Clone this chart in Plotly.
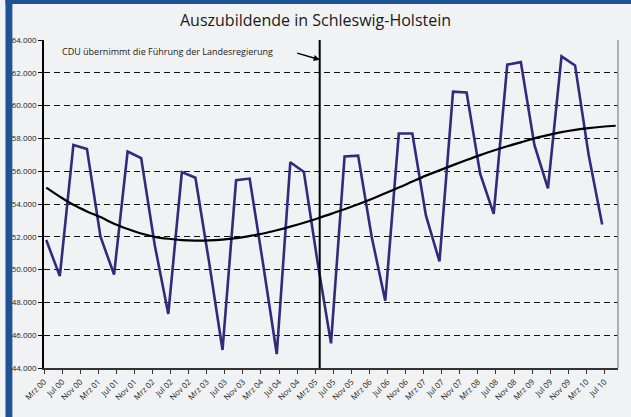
import plotly.graph_objects as go

# ---- data (quarterly values, Mrz 00 .. Jun 10) ----
azubi = [51800, 49600, 57600, 57350, 52000, 49700, 57200, 56800,
         51500, 47300, 55950, 55600, 50500, 45100, 55450, 55550,
         50300, 44850, 56550, 55950, 50500, 45500, 56900, 56950,
         52000, 48100, 58300, 58300, 53300, 50500, 60850, 60800,
         55850, 53400, 62500, 62650, 57600, 54950, 63000, 62450,
         57000, 52750]
trend = [55000, 54450, 53950, 53550, 53200, 52800, 52480, 52200,
         52000, 51880, 51800, 51770, 51780, 51830, 51920, 52050,
         52200, 52400, 52620, 52860, 53120, 53400, 53680, 53980,
         54300, 54650, 55000, 55370, 55730, 56050, 56370, 56680,
         56980, 57260, 57520, 57760, 58000, 58200, 58380, 58520,
         58630, 58710, 58770]
tick_labels = ["Mrz 00", "Jul 00", "Nov 00", "Mrz 01", "Jul 01", "Nov 01",
               "Mrz 02", "Jul 02", "Nov 02", "Mrz 03", "Jul 03", "Nov 03",
               "Mrz 04", "Jul 04", "Nov 04", "Mrz 05", "Jul 05", "Nov 05",
               "Mrz 06", "Jul 06", "Nov 06", "Mrz 07", "Jul 07", "Nov 07",
               "Mrz 08", "Jul 08", "Nov 08", "Mrz 09", "Jul 09", "Nov 09",
               "Mrz 10", "Jul 10"]
event_month = 61  # April 2005, months after Mrz 00
event_text = "CDU übernimmt die Führung der Landesregierung"
title_text = "Auszubildende in Schleswig-Holstein"

# x positions: months after March 2000 (quarterly points, mid-month)
x_data = [3 * i + 0.5 for i in range(len(azubi))]
x_trend = [3 * i + 0.5 for i in range(len(trend))]
tick_vals = [4 * k for k in range(len(tick_labels))]

W, H = 631, 417
L, R, T, B = 37, 13, 40, 49
pw, ph = W - L - R, H - T - B


def px_x(p):
    return (p - L) / pw


def px_y(p):
    return (H - B - p) / ph


FONT = "Open Sans"
BLUE = "#1E5494"
BG = "#F1F2F4"

fig = go.Figure()
fig.add_trace(go.Scatter(x=x_data, y=azubi, mode="lines",
                         line=dict(color="#2F2C7C", width=2.6),
                         showlegend=False, hoverinfo="skip"))
fig.add_trace(go.Scatter(x=x_trend, y=trend, mode="lines",
                         line=dict(color="black", width=2.2, shape="spline"),
                         showlegend=False, hoverinfo="skip"))

shapes = [
    dict(type="line", xref="x", yref="paper", x0=event_month, x1=event_month,
         y0=0, y1=1, line=dict(color="black", width=2)),
    dict(type="line", xref="paper", yref="paper", x0=1, x1=1, y0=0, y1=1,
         line=dict(color="#999999", width=1.5)),
    # blue frame strips (top, left)
    dict(type="rect", xref="paper", yref="paper", x0=px_x(-2), x1=px_x(W + 2),
         y0=px_y(4), y1=px_y(-2), line=dict(width=0), fillcolor=BLUE, layer="below"),
    dict(type="rect", xref="paper", yref="paper", x0=px_x(-2), x1=px_x(5),
         y0=px_y(H + 2), y1=px_y(-2), line=dict(width=0), fillcolor=BLUE, layer="below"),
]

annotations = [
    dict(text=title_text, xref="paper", yref="paper", x=px_x(312), y=px_y(20),
         showarrow=False, font=dict(family=FONT, size=16, color="#1a1a1a"),
         xanchor="center", yanchor="middle"),
    dict(text=event_text, xref="paper", yref="paper", x=px_x(53), y=px_y(51),
         showarrow=False, font=dict(family=FONT, size=9, color="#1a1a1a"),
         xanchor="left", yanchor="middle"),
    dict(x=event_month, y=62800, xref="x", yref="y", text="", showarrow=True,
         ax=-24, ay=-7, arrowhead=2, arrowsize=0.8, arrowwidth=1.5,
         arrowcolor="black"),
]

fig.update_layout(
    width=W, height=H,
    margin=dict(l=L, r=R, t=T, b=B, pad=0),
    paper_bgcolor=BG, plot_bgcolor=BG,
    separators=",.",
    shapes=shapes, annotations=annotations,
    xaxis=dict(range=[0, 127], tickmode="array", tickvals=tick_vals,
               ticktext=tick_labels, tickangle=-45, showgrid=False,
               showline=True, linecolor="#333333", linewidth=2,
               ticks="outside", ticklen=4, tickcolor="#333333",
               tickfont=dict(family=FONT, size=8, color="#222222"),
               zeroline=False, fixedrange=True),
    yaxis=dict(range=[44000, 64000], dtick=2000, tickformat=",.0f",
               showgrid=True, gridcolor="#111111", griddash="6px,4px",
               gridwidth=1, showline=True, linecolor="black", linewidth=1.5,
               ticks="outside", ticklen=4, tickcolor="black",
               tickfont=dict(family=FONT, size=8, color="#222222"),
               zeroline=False, fixedrange=True),
)

fig.write_html("out.html", config={"displayModeBar": False},
               post_script="document.body.style.margin='0';")
